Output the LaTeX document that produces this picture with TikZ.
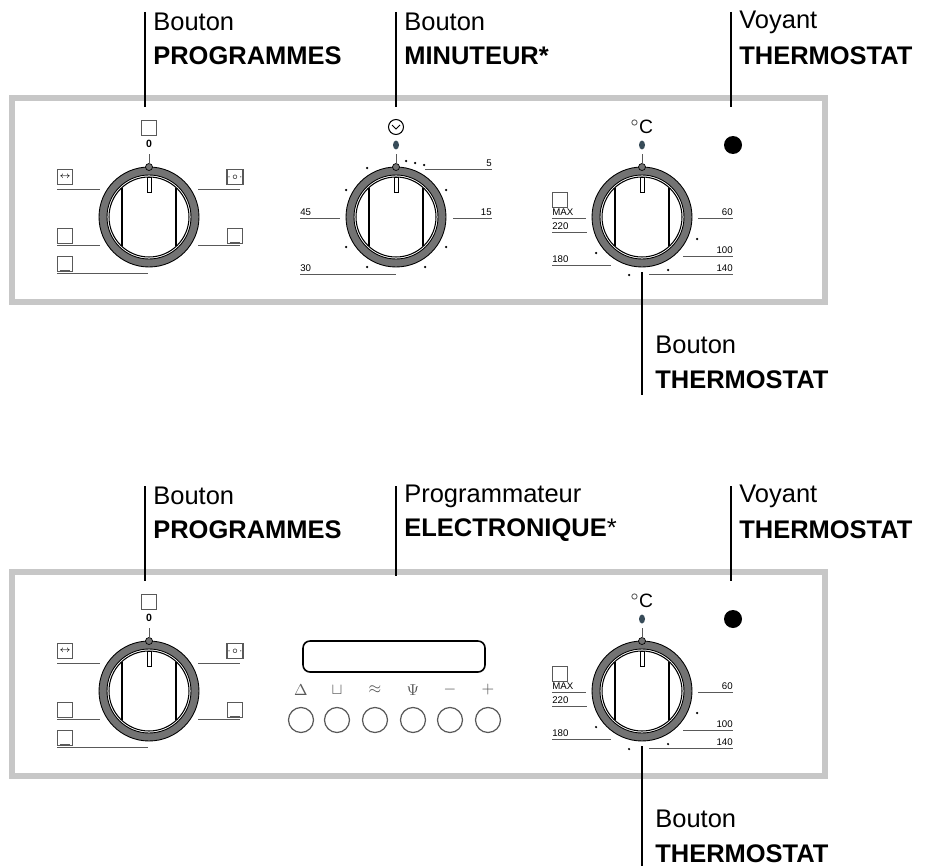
\documentclass[tikz,border=0pt]{standalone}
\usepackage{fontspec}
\setmainfont{Liberation Sans}
\usetikzlibrary{calc}
\begin{document}
\begin{tikzpicture}[x=0.02cm,y=-0.02cm]
  % colors
  \definecolor{kFrame}{rgb}{0.78,0.78,0.78}
  \definecolor{kRing}{rgb}{0.45,0.45,0.45}
  \definecolor{kLine}{rgb}{0.35,0.35,0.35}
  \definecolor{kDot}{rgb}{0.22,0.30,0.35}
  \tikzset{
    callout/.style={anchor=west,inner sep=0pt,font=\fontsize{14.5}{16}\selectfont},
    scaletext/.style={inner sep=0pt,font=\fontsize{5.5}{6}\selectfont,anchor=south},
    tickline/.style={color=kLine,line width=0.5pt},
    icon/.style={draw=kLine,line width=0.6pt,minimum size=0.3cm,inner sep=0pt},
    btn/.style={circle,draw=kLine,line width=0.7pt,minimum size=0.5cm,inner sep=0pt}
  }
  \newcommand{\ovenknob}[3]{%
    \coordinate (#1) at (#2,#3);
    \draw[fill=kRing,even odd rule,line width=0.5pt] (#1) circle (1cm) (#1) circle (0.84cm);
    \draw[line width=0.6pt] (#1) circle (0.8cm);
    \draw[line width=0.6pt] ($(#1)+(-27,-29)$) -- ($(#1)+(-27,29)$);
    \draw[line width=0.6pt] ($(#1)+(27,-29)$) -- ($(#1)+(27,29)$);
    \draw[line width=0.5pt,fill=white] ($(#1)+(-2,-40)$) rectangle ($(#1)+(2,-25)$);
    \draw[fill=kRing,line width=0.4pt] ($(#1)+(0,-50)$) circle (0.07cm);
    \draw[tickline] ($(#1)+(0,-53)$) -- ($(#1)+(0,-63)$);}
  % frames
  \useasboundingbox (0,0) rectangle (929,865);
  \foreach \dy in {0,474} {
    \draw[color=kFrame,line width=3.2pt] (12,98+\dy) rectangle (825,302+\dy);
  };
  % callouts
  \foreach \n/\x/\y/\ta/\tb in {p1/145/12/Bouton/PROGRAMMES, m1/396/12/Bouton/MINUTEUR\textbf{*},
      v1/731/12/Voyant/THERMOSTAT, p2/145/486/Bouton/PROGRAMMES,
      v2/731/486/Voyant/THERMOSTAT} {
    \coordinate (\n a) at (\x,\y);
    \coordinate (\n b) at (\x,\y+95);
    \draw[line width=0.6pt] (\n a) -- (\n b);
    \node[callout] at (\x+8,\y+10) {\ta};
    \node[callout,font=\fontsize{14.5}{16}\selectfont\bfseries] at (\x+8,\y+44) {\tb};
  };
  \coordinate (e2a) at (396,486);
  \coordinate (e2b) at (396,576);
  \draw[line width=0.6pt] (e2a) -- (e2b);
  \node[callout] at (404,496) {Programmateur};
  \node[callout] at (404,530) {\textbf{ELECTRONIQUE}*};
  \foreach \n/\y in {t1/272,t2/746} {
    \coordinate (\n a) at (642,\y);
    \coordinate (\n b) at (642,\y+123);
    \draw[line width=0.6pt] (\n a) -- (\n b);
    \node[callout] at (655,\y+73) {Bouton};
    \node[callout,font=\fontsize{14.5}{16}\selectfont\bfseries] at (655,\y+108) {THERMOSTAT};
  };
  % programme knobs
  \foreach \n/\dy in {a/0,b/474} {
    \ovenknob{pk\n}{149}{217+\dy}
    \node[icon] (pz\n) at (149,128+\dy) {};
    \node[inner sep=0pt,font=\fontsize{6}{6}\selectfont\bfseries] at (149,144+\dy) {0};
    \node[icon] (pg\n) at (65,177+\dy) {\tiny$\leftrightarrow$};
    \node[icon] (pl\n) at (235,177+\dy) {\tiny$\cdot\!\circ\!\cdot$};
    \node[icon] (pt\n) at (65,236+\dy) {};
    \node[icon] (pb\n) at (235,236+\dy) {};
    \node[icon] (pu\n) at (65,264+\dy) {};
    \draw[tickline] ($(pb\n.south west)+(3,-2)$) -- ($(pb\n.south east)+(-3,-2)$);
    \draw[tickline] ($(pu\n.south west)+(3,-2)$) -- ($(pu\n.south east)+(-3,-2)$);
    \draw[tickline] (57,189+\dy) -- (100,189+\dy);
    \draw[tickline] (198,189+\dy) -- (240,189+\dy);
    \draw[tickline] (57,245+\dy) -- (100,245+\dy);
    \draw[tickline] (198,245+\dy) -- (240,245+\dy);
    \draw[tickline] (57,273+\dy) -- (148,273+\dy);
  };
  % minuteur knob
  \ovenknob{mk}{396}{217}
  \draw[line width=0.6pt] (396,127) circle (0.15cm);
  \draw[line width=0.5pt] (392,125) -- (396,129) -- (400,125);
  \fill[kDot] (396,145) ellipse (0.06cm and 0.09cm);
  \foreach \p in {(406,161),(415,163),(424,165),(367,168),(346,190),(446,190),(346,247),(446,247),(367,267),(425,267)}
    \fill \p circle (0.025cm);
  \node[scaletext,anchor=south east] at (492,167) {5};
  \node[scaletext,anchor=south west] at (300,216) {45};
  \node[scaletext,anchor=south east] at (492,216) {15};
  \node[scaletext,anchor=south west] at (300,272) {30};
  \draw[tickline] (425,169) -- (492,169);
  \draw[tickline] (300,218) -- (340,218);
  \draw[tickline] (453,218) -- (492,218);
  \draw[tickline] (300,274) -- (396,274);
  % thermostat knobs
  \foreach \n/\dy in {a/0,b/474} {
    \ovenknob{tk\n}{642}{217+\dy}
    \node[inner sep=0pt,font=\fontsize{11}{11}\selectfont] at (642,127+\dy) {$^\circ$C};
    \fill[kDot] (642,145+\dy) ellipse (0.06cm and 0.09cm);
    \fill (733,145+\dy) circle (0.18cm);
    \node[icon] at (560,200+\dy) {};
    \foreach \x/\y in {596/253,629/275,668/270,697/239}
      \fill (\x,\y+\dy) circle (0.025cm);
    \node[scaletext,anchor=south west] at (552,216+\dy) {MAX};
    \node[scaletext,anchor=south west] at (552,230+\dy) {220};
    \node[scaletext,anchor=south west] at (552,263+\dy) {180};
    \node[scaletext,anchor=south east] at (733,216+\dy) {60};
    \node[scaletext,anchor=south east] at (733,254+\dy) {100};
    \node[scaletext,anchor=south east] at (733,272+\dy) {140};
    \draw[tickline] (552,218+\dy) -- (586,218+\dy);
    \draw[tickline] (552,232+\dy) -- (587,232+\dy);
    \draw[tickline] (552,265+\dy) -- (611,265+\dy);
    \draw[tickline] (698,218+\dy) -- (733,218+\dy);
    \draw[tickline] (683,256+\dy) -- (733,256+\dy);
    \draw[tickline] (649,274+\dy) -- (733,274+\dy);
  };
  % electronic programmer
  \draw[line width=0.9pt,rounded corners=4pt] (303,641) rectangle (485,672);
  \foreach \i/\x/\s in {1/301/$\Delta$,2/337/$\sqcup$,3/375/$\approx$,4/413/$\Psi$,5/450/$-$,6/488/$+$} {
    \node[inner sep=0pt,font=\small,color=kLine] (s\i) at (\x,690) {\s};
    \node[btn] (b\i) at (\x,720) {};
  };
\end{tikzpicture}
\end{document}
